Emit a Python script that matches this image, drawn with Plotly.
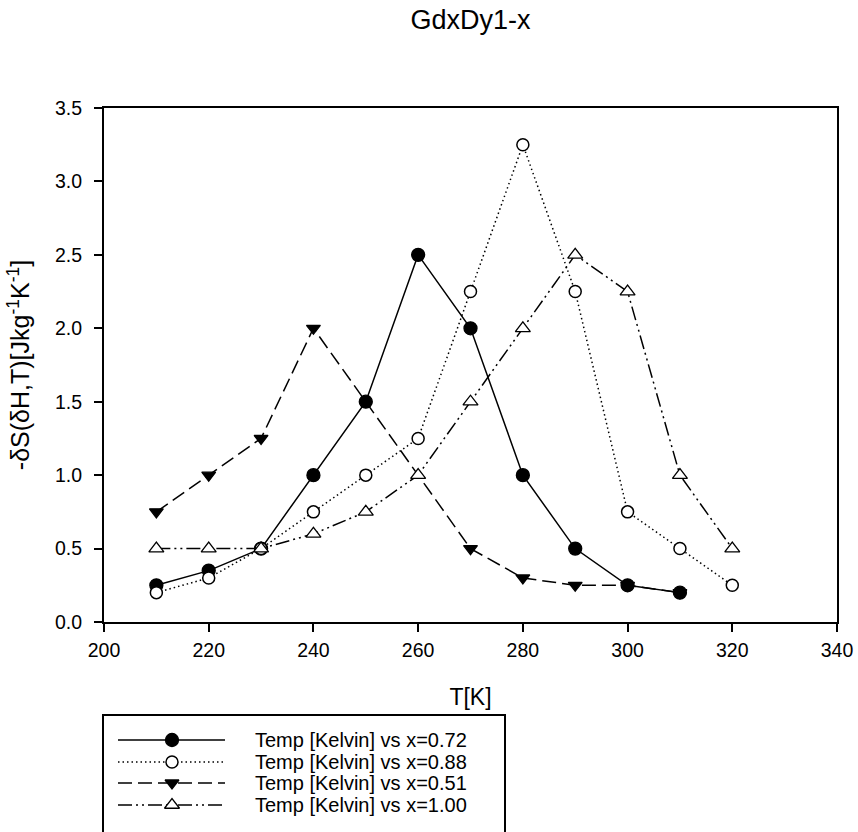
import plotly.graph_objects as go

# ---------------- data ----------------
chart_title = "GdxDy1-x"
temps = [210, 220, 230, 240, 250, 260, 270, 280, 290, 300, 310, 320]
x072 = [0.25, 0.35, 0.5, 1.0, 1.5, 2.5, 2.0, 1.0, 0.5, 0.25, 0.2, None]
x088 = [0.2, 0.3, 0.5, 0.75, 1.0, 1.25, 2.25, 3.25, 2.25, 0.75, 0.5, 0.25]
x051 = [0.75, 1.0, 1.25, 2.0, None, None, 0.5, 0.3, 0.25, 0.25, 0.2, None]
x100 = [0.5, 0.5, 0.5, 0.6, 0.75, 1.0, 1.5, 2.0, 2.5, 2.25, 1.0, 0.5]
series_names = [
    "Temp [Kelvin] vs x=0.72",
    "Temp [Kelvin] vs x=0.88",
    "Temp [Kelvin] vs x=0.51",
    "Temp [Kelvin] vs x=1.00",
]
x_ticks = [200, 220, 240, 260, 280, 300, 320, 340]
y_ticks = [0.0, 0.5, 1.0, 1.5, 2.0, 2.5, 3.0, 3.5]
x_title = "T[K]"
y_title = "-δS(δH,T)[Jkg<sup>-1</sup>K<sup>-1</sup>]"

# ---------------- layout constants (pixels) ----------------
W, H = 858, 832
PL, PR, PT, PB = 104, 837, 108, 622   # plot box
FONT = "Arial, 'Liberation Sans', sans-serif"

styles = [
    dict(dash="solid", symbol="circle", fill="black", size=13),
    dict(dash="1.5px,3px", symbol="circle-open", fill="black", size=12),
    dict(dash="14px,6px", symbol="triangle-down", fill="black", size=12),
    dict(dash="14px,4px,2px,4px,2px,4px", symbol="triangle-up", fill="white", size=13),
]
series = [x072, x088, x051, x100]
draw_order = [2, 0, 1, 3]


def marker_for(st):
    if st["symbol"] == "circle-open":
        return dict(symbol="circle", size=st["size"], color="white",
                    line=dict(color="black", width=1.5))
    return dict(symbol=st["symbol"], size=st["size"], color=st["fill"],
                line=dict(color="black", width=1.3))


fig = go.Figure()
for i in draw_order:
    st = styles[i]
    fig.add_trace(go.Scatter(
        x=temps, y=series[i], mode="lines+markers", connectgaps=True,
        line=dict(color="black", width=1.5, dash=st["dash"]),
        marker=marker_for(st), name=series_names[i], showlegend=False,
        xaxis="x", yaxis="y"))

# ---------------- custom legend (glyphs on a hidden pixel axis) ----------------
LEG_ROWS = [740, 762, 783, 805]
LEG_LINE = (118, 225)
LEG_MARK = 172
LEG_TEXT = 253
LEG_BOX = (103, 715, 505, 845)
Y2_DOM = 0.2
for i in range(4):
    st = styles[i]
    row = LEG_ROWS[i]
    fig.add_trace(go.Scatter(
        x=list(LEG_LINE), y=[row, row], mode="lines",
        line=dict(color="black", width=1.5, dash=st["dash"]),
        showlegend=False, hoverinfo="skip", xaxis="x2", yaxis="y2"))
    fig.add_trace(go.Scatter(
        x=[LEG_MARK], y=[row], mode="markers", marker=marker_for(st),
        showlegend=False, hoverinfo="skip", xaxis="x2", yaxis="y2"))
    fig.add_annotation(
        x=LEG_TEXT / W, y=1 - row / H, xref="paper", yref="paper",
        text=series_names[i], showarrow=False, xanchor="left", yanchor="middle",
        font=dict(size=20, color="black", family=FONT))

fig.add_shape(type="rect", xref="paper", yref="paper",
              x0=LEG_BOX[0] / W, x1=LEG_BOX[2] / W,
              y0=1 - LEG_BOX[1] / H, y1=1 - LEG_BOX[3] / H,
              line=dict(color="black", width=2), fillcolor="rgba(0,0,0,0)")

axis_common = dict(
    showline=True, linecolor="black", linewidth=2, mirror=True,
    ticks="outside", ticklen=8, tickwidth=1.5, tickcolor="black",
    showgrid=False, zeroline=False,
    tickfont=dict(size=19.5, color="black", family=FONT),
)

fig.update_layout(
    width=W, height=H,
    margin=dict(l=0, r=0, t=0, b=0, autoexpand=False),
    paper_bgcolor="white", plot_bgcolor="white",
    font=dict(family=FONT, color="black"),
    title=dict(text=chart_title, x=(PL + PR) / 2 / W, y=1 - 20 / H,
               xanchor="center", yanchor="middle",
               font=dict(size=27, color="black", family=FONT)),
    xaxis=dict(domain=[PL / W, PR / W], range=[200, 340], tickvals=x_ticks,
               anchor="y", ticklabelstandoff=2,
               title=dict(text=x_title, standoff=28,
                          font=dict(size=23, color="black", family=FONT)),
               **axis_common),
    yaxis=dict(domain=[1 - PB / H, 1 - PT / H], range=[0, 3.5], tickvals=y_ticks,
               tickformat=".1f", anchor="x", ticklabelstandoff=8,
               title=dict(text=y_title, standoff=18,
                          font=dict(size=25, color="black", family=FONT)),
               **axis_common),
    xaxis2=dict(domain=[0, 1], range=[0, W], visible=False, anchor="y2",
                fixedrange=True),
    yaxis2=dict(domain=[0, Y2_DOM], range=[H, H - Y2_DOM * H], visible=False,
                anchor="x2", fixedrange=True),
)

fig.write_html(
    "out.html",
    config={"displayModeBar": False},
    post_script="document.body.style.margin='0';document.body.style.overflow='hidden';",
)
